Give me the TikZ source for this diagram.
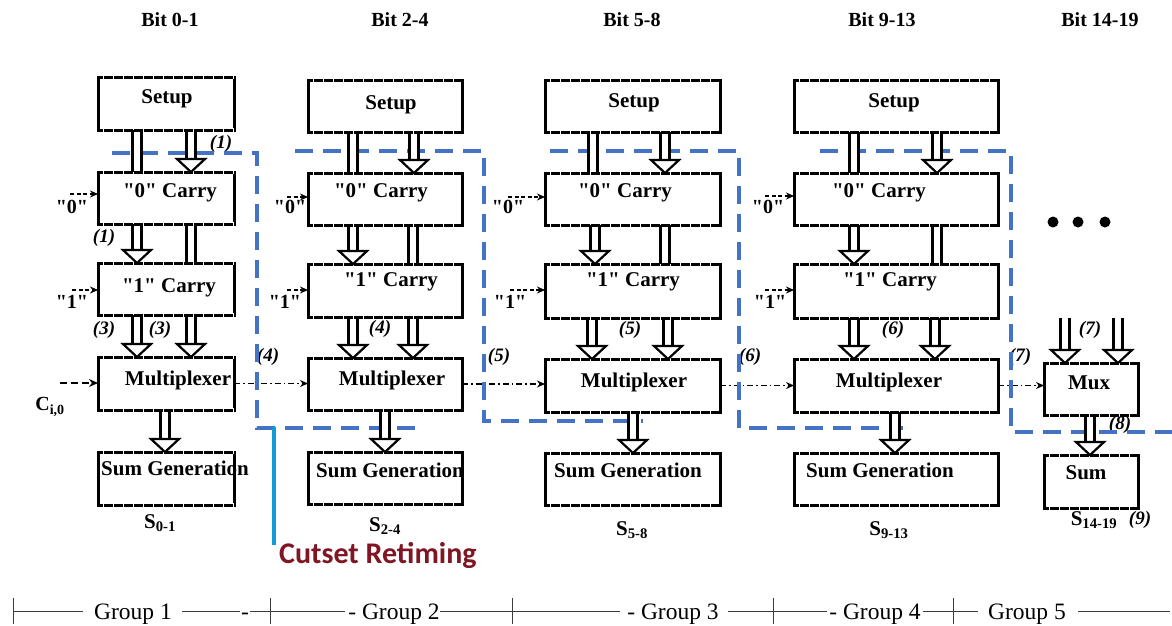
\documentclass[tikz,border=0pt]{standalone}
\usepackage{fontspec}
\setmainfont{Liberation Serif}[Ligatures=TeXOff]
\newfontfamily\cutfont{Carlito}
\usetikzlibrary{arrows.meta,calc}
\definecolor{cutblue}{HTML}{4472C4}
\definecolor{cyanline}{RGB}{20,155,215}
\definecolor{cutred}{RGB}{128,22,36}
\definecolor{rulegray}{RGB}{60,60,60}
\newcommand\qq{{\char34}}
\tikzset{
  box/.style={draw, line width=3pt, inner sep=0pt, outer sep=0pt},
  gap/.style={white, line width=3.2pt, dash pattern=on 1pt off 9pt, dash phase=5pt},
  sline/.style={line width=2.6pt, line cap=butt},
  hline/.style={line width=2.2pt, line join=miter},
  boxtxt/.style={font=\fontsize{21}{24}\selectfont\bfseries, inner sep=0pt},
  hdr/.style={font=\fontsize{20}{24}\selectfont\bfseries, inner sep=0pt},
  num/.style={font=\fontsize{19}{22}\selectfont\bfseries\itshape, inner sep=0pt},
  inlbl/.style={font=\fontsize{20}{24}\selectfont\bfseries, inner sep=0pt},
  slbl/.style={font=\fontsize{21}{24}\selectfont\bfseries, inner sep=0pt},
  grp/.style={font=\fontsize{23.5}{26}\selectfont, inner sep=0pt, anchor=base},
  inarrow/.style={line width=1.6pt, dash pattern=on 4pt off 2.5pt, -{Stealth[length=8pt,width=7pt]}},
  cinarrow/.style={line width=2pt, dash pattern=on 7pt off 4pt, -{Stealth[length=9pt,width=8pt]}},
  chain/.style={line width=1.3pt, dash pattern=on 6pt off 3pt on 1.5pt off 3pt, -{Stealth[length=8pt,width=7pt]}},
  cut/.style={cutblue, line width=3.5pt, dash pattern=on 18pt off 10pt},
  cyanrule/.style={cyanline, line width=4pt},
  cutlbl/.style={font=\cutfont\fontsize{30}{34}\selectfont\bfseries, text=cutred, inner sep=0pt, anchor=west},
  dot/.style={circle, fill=black, inner sep=0pt, minimum size=11pt},
  rule/.style={rulegray, line width=1pt},
}
\newcommand\bx[5]{%
  \node[box, minimum width=#4, minimum height=#5] (#1) at (#2,#3) {};
  \draw[gap] (#1.north west) -- (#1.north east) (#1.south west) -- (#1.south east);}
\newcommand\plainshaft[3]{%
  \pgfmathsetmacro\xl{#3-4.5}\pgfmathsetmacro\xr{#3+4.5}%
  \coordinate (ta) at ([yshift=-1.6pt]#1);
  \coordinate (tb) at ([yshift=1.6pt]#2.north);
  \fill[white] (ta -| \xl,0) rectangle (tb -| \xr,0);
  \draw[sline] (#1 -| \xl,0) -- (#2.north -| \xl,0);
  \draw[sline] (#1 -| \xr,0) -- (#2.north -| \xr,0);}
\newcommand\headshaft[3]{%
  \pgfmathsetmacro\xl{#3-4.5}\pgfmathsetmacro\xr{#3+4.5}%
  \pgfmathsetmacro\hl{#3-14}\pgfmathsetmacro\hr{#3+14}%
  \coordinate (ta) at ([yshift=-1.6pt]#1);
  \coordinate (hb) at ([yshift=13pt]#2.north);
  \fill[white] (ta -| \xl,0) rectangle (hb -| \xr,0);
  \draw[sline] (#1 -| \xl,0) -- (hb -| \xl,0);
  \draw[sline] (#1 -| \xr,0) -- (hb -| \xr,0);
  \draw[hline, fill=white] (hb -| \hl,0) -- (hb -| \hr,0) -- (#2.north -| #3,0) -- cycle;}
\begin{document}
\begin{tikzpicture}[x=1pt,y=-1pt]
\useasboundingbox (0,0) rectangle (1172,625);
\fill[white] (0,0) rectangle (1172,625);

% headers
\node[hdr] (h1) at (170,20) {Bit 0-1};
\node[hdr] (h2) at (400,20) {Bit 2-4};
\node[hdr] (h3) at (632,20) {Bit 5-8};
\node[hdr] (h4) at (882,20) {Bit 9-13};
\node[hdr] (h5) at (1100,20) {Bit 14-19};

% boxes
\bx{s1}{166}{103.5}{136}{53}
\bx{z1}{166}{198}{136}{52}
\bx{o1}{166}{289}{136}{52}
\bx{m1}{166}{383.5}{136}{53}
\bx{g1}{166}{478.5}{136}{53}

\bx{s2}{385}{106}{154}{52}
\bx{z2}{385}{199}{154}{52}
\bx{o2}{385}{290.5}{154}{53}
\bx{m2}{385}{384}{154}{52}
\bx{g2}{385}{478}{154}{52}

\bx{s3}{632.5}{106}{175}{52}
\bx{z3}{632.5}{199}{175}{52}
\bx{o3}{632.5}{291}{175}{54}
\bx{m3}{632.5}{385.5}{175}{53}
\bx{g3}{632.5}{479}{175}{52}

\bx{s4}{896}{106}{204}{52}
\bx{z4}{896}{199}{204}{52}
\bx{o4}{896}{291}{204}{54}
\bx{m4}{896}{385.5}{204}{53}
\bx{g4}{896}{479}{204}{52}

\bx{m5}{1091}{389}{94}{52}
\bx{g5}{1091}{481.5}{94}{53}

% box texts
\node[boxtxt] (s1t) at (167,99) {Setup};
\node[boxtxt] (z1t) at (170,193) {\qq0\qq{} Carry};
\node[boxtxt] (o1t) at (169,288) {\qq1\qq{} Carry};
\node[boxtxt] (m1t) at (178,380) {Multiplexer};
\node[boxtxt] (g1t) at (175,468) {Sum Generation};

\node[boxtxt] (s2t) at (391,105) {Setup};
\node[boxtxt] (z2t) at (381,193) {\qq0\qq{} Carry};
\node[boxtxt] (o2t) at (391,282) {\qq1\qq{} Carry};
\node[boxtxt] (m2t) at (392,380) {Multiplexer};
\node[boxtxt] (g2t) at (390,470) {Sum Generation};

\node[boxtxt] (s3t) at (634,103) {Setup};
\node[boxtxt] (z3t) at (625,193) {\qq0\qq{} Carry};
\node[boxtxt] (o3t) at (633,282) {\qq1\qq{} Carry};
\node[boxtxt] (m3t) at (634,382) {Multiplexer};
\node[boxtxt] (g3t) at (628,470) {Sum Generation};

\node[boxtxt] (s4t) at (894,103) {Setup};
\node[boxtxt] (z4t) at (879,193) {\qq0\qq{} Carry};
\node[boxtxt] (o4t) at (890,282) {\qq1\qq{} Carry};
\node[boxtxt] (m4t) at (889,382) {Multiplexer};
\node[boxtxt] (g4t) at (880,470) {Sum Generation};

\node[boxtxt] (m5t) at (1089,383) {Mux};
\node[boxtxt] (g5t) at (1086,473) {Sum};

% multiplexer chain
\coordinate (ca) at (60,383);
\draw[cinarrow] (ca) -- (ca -| m1.west);
\draw[chain] (m1.east) -- (m1.east -| m2.west);
\draw[chain] (m2.east) -- (m2.east -| m3.west);
\draw[chain] (m3.east) -- (m3.east -| m4.west);
\draw[chain] (m4.east) -- (m4.east -| m5.west);

% inputs
\node[inlbl] (i01) at (72,207) {\qq0\qq};
\node[inlbl] (i11) at (72,302) {\qq1\qq};
\node[inlbl] (i02) at (290,207) {\qq0\qq};
\node[inlbl] (i12) at (285,302) {\qq1\qq};
\node[inlbl] (i03) at (508,207) {\qq0\qq};
\node[inlbl] (i13) at (510,302) {\qq1\qq};
\node[inlbl] (i04) at (768,207) {\qq0\qq};
\node[inlbl] (i14) at (770,302) {\qq1\qq};
\coordinate (a01) at (70,194);
\coordinate (a11) at (72,290);
\coordinate (a02) at (287,197);
\coordinate (a12) at (287,290);
\coordinate (a03) at (508,197);
\coordinate (a13) at (510,290);
\coordinate (a04) at (765,196);
\coordinate (a14) at (765,290);
\draw[inarrow] (a01) -- (a01 -| z1.west);
\draw[inarrow] (a11) -- (a11 -| o1.west);
\draw[inarrow] (a02) -- (a02 -| z2.west);
\draw[inarrow] (a12) -- (a12 -| o2.west);
\draw[inarrow] (a03) -- (a03 -| z3.west);
\draw[inarrow] (a13) -- (a13 -| o3.west);
\draw[inarrow] (a04) -- (a04 -| z4.west);
\draw[inarrow] (a14) -- (a14 -| o4.west);
\node[inlbl] (cin) at (50,407) {C\textsubscript{i,0}};

% step labels
\node[num] (n1a) at (221,144) {(1)};
\node[num] (n1b) at (104,238) {(1)};
\node[num] (n3a) at (104,330) {(3)};
\node[num] (n3b) at (160,330) {(3)};
\node[num] (n4a) at (268,357) {(4)};
\node[num] (n4b) at (380,329) {(4)};
\node[num] (n5a) at (499,357) {(5)};
\node[num] (n5b) at (630,330) {(5)};
\node[num] (n6a) at (750,357) {(6)};
\node[num] (n6b) at (893,330) {(6)};
\node[num] (n7a) at (1020,357) {(7)};
\node[num] (n7b) at (1090,330) {(7)};
\node[num] (n8) at (1120,425) {(8)};
\node[num] (n9) at (1140,520) {(9)};

% cutset lines
\draw[cut] (112,153) -- (257,153) -- (257,428) -- (423,428);
\draw[cut] (295,151) -- (484,151) -- (484,421) -- (643,421);
\draw[cut] (550,151) -- (739,151) -- (739,428) -- (903,428);
\draw[cut] (820,151) -- (1011,151) -- (1011,432) -- (1172,432);
\coordinate (cy1) at (274,427);
\coordinate (cy2) at (274,545);
\draw[cyanrule] (cy1) -- (cy2);
\node[cutlbl] (ct) at (279,555) {Cutset Retiming};

% hollow arrows column 1
\plainshaft{s1.south}{z1}{137}
\headshaft{s1.south}{z1}{191}
\headshaft{z1.south}{o1}{137}
\plainshaft{z1.south}{o1}{191}
\headshaft{o1.south}{m1}{137}
\headshaft{o1.south}{m1}{191}
\headshaft{m1.south}{g1}{165}
% column 2
\plainshaft{s2.south}{z2}{353}
\headshaft{s2.south}{z2}{414}
\headshaft{z2.south}{o2}{353}
\plainshaft{z2.south}{o2}{413}
\headshaft{o2.south}{m2}{353}
\headshaft{o2.south}{m2}{413}
\headshaft{m2.south}{g2}{385}
% column 3
\plainshaft{s3.south}{z3}{593}
\headshaft{s3.south}{z3}{665}
\headshaft{z3.south}{o3}{595}
\plainshaft{z3.south}{o3}{665}
\headshaft{o3.south}{m3}{592}
\headshaft{o3.south}{m3}{668}
\headshaft{m3.south}{g3}{633}
% column 4
\plainshaft{s4.south}{z4}{854}
\headshaft{s4.south}{z4}{937}
\headshaft{z4.south}{o4}{854}
\plainshaft{z4.south}{o4}{937}
\headshaft{o4.south}{m4}{854}
\headshaft{o4.south}{m4}{935}
\headshaft{m4.south}{g4}{895}
% column 5
\coordinate (c5a) at (1065,318);
\coordinate (c5b) at (1118,318);
\headshaft{c5a}{m5}{1065}
\headshaft{c5b}{m5}{1118}
\headshaft{m5.south}{g5}{1090}

% dots
\node[dot] (d1) at (1053,222) {};
\node[dot] (d2) at (1078,222) {};
\node[dot] (d3) at (1105,222) {};

% sum labels
\node[slbl] (o01) at (160,523) {S\textsubscript{0-1}};
\node[slbl] (o24) at (385,526) {S\textsubscript{2-4}};
\node[slbl] (o58) at (632,530) {S\textsubscript{5-8}};
\node[slbl] (o913) at (889,530) {S\textsubscript{9-13}};
\node[slbl] (o1419) at (1094,520) {S\textsubscript{14-19}};

% group rule
\foreach \bxx in {13,270,512,773,953} \draw[rule] (\bxx,598) -- (\bxx,624);
\draw[rule] (13,611) -- (83,611);
\draw[rule] (182,611) -- (240,611);
\draw[rule] (250,611) -- (345,611);
\draw[rule] (440,611) -- (620,611);
\draw[rule] (728,611) -- (827,611);
\draw[rule] (923,611) -- (978,611);
\draw[rule] (1078,611) -- (1170,611);
\node[grp] (gr1) at (133,619) {Group 1};
\node[grp] (hy1) at (245,619) {-};
\node[grp] (gr2) at (394,619) {- Group 2};
\node[grp] (gr3) at (673,619) {- Group 3};
\node[grp] (gr4) at (875,619) {- Group 4};
\node[grp] (gr5) at (1027,619) {Group 5};
\end{tikzpicture}
\end{document}
